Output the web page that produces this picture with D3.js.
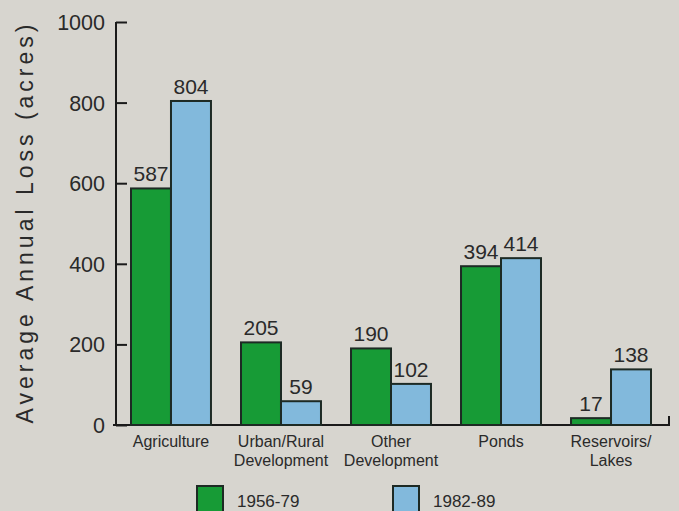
<!DOCTYPE html>
<html>
<head>
<meta charset="utf-8">
<script src="https://cdn.jsdelivr.net/npm/d3@7"></script>
<style>
html,body{margin:0;padding:0;background:#d7d5cf;}
svg{display:block;}
text{font-family:"Liberation Sans",Arial,Helvetica,sans-serif;fill:#2a2a2a;}
</style>
</head>
<body>
<svg id="chart" width="679" height="511"></svg>
<script>
const categories = [["Agriculture"], ["Urban/Rural", "Development"], ["Other", "Development"], ["Ponds"], ["Reservoirs/", "Lakes"]];
const seriesNames = ["1956-79", "1982-89"];
const values1956 = [587, 205, 190, 394, 17];
const values1982 = [804, 59, 102, 414, 138];
const yTicks = [0, 200, 400, 600, 800, 1000];
const colors = ["#179b36", "#82b9dc"];

const svg = d3.select("#chart");
const keys = categories.map((c, i) => "c" + i);

const x = d3.scaleBand().domain(keys).range([131, 651]).paddingInner(0.273).paddingOuter(0);
const xs = d3.scaleBand().domain(seriesNames).range([0, x.bandwidth()]).padding(0);
const y = d3.scaleLinear().domain([0, 1000]).range([425, 22]);

svg.append("rect").attr("width", 679).attr("height", 511).attr("fill", "#d7d5cf");

// y axis
const yAxis = d3.axisRight(y).tickValues(yTicks).tickSize(11).tickFormat("");
const ga = svg.append("g").attr("transform", "translate(116,0)").call(yAxis);
ga.select(".domain").remove();
ga.selectAll(".tick line").attr("stroke", "#1a1a1a").attr("stroke-width", 2);
svg.append("line").attr("x1", 116).attr("x2", 116).attr("y1", y(1000)).attr("y2", y(0) + 1)
  .attr("stroke", "#1a1a1a").attr("stroke-width", 2);
svg.selectAll(".ylab").data(yTicks).enter().append("text")
  .attr("x", 105).attr("y", d => y(d) + 8).attr("text-anchor", "end")
  .attr("font-size", 21.5).text(d => d);

// baseline
svg.append("path")
  .attr("d", `M113,${y(0)} L669,${y(0)} L669,${y(0) - 9}`)
  .attr("fill", "none").attr("stroke", "#1a1a1a").attr("stroke-width", 2);

// bars
const data = keys.map((k, i) => ({k, vals: [values1956[i], values1982[i]]}));
const groups = svg.selectAll(".grp").data(data).enter().append("g")
  .attr("transform", d => `translate(${x(d.k)},0)`);
groups.selectAll("rect").data(d => d.vals.map((v, j) => ({v, s: seriesNames[j], j}))).enter().append("rect")
  .attr("x", d => xs(d.s)).attr("width", xs.bandwidth())
  .attr("y", d => y(d.v)).attr("height", d => y(0) - y(d.v))
  .attr("fill", d => colors[d.j]).attr("stroke", "#1d2a24").attr("stroke-width", 2);
groups.selectAll(".vl").data(d => d.vals.map((v, j) => ({v, s: seriesNames[j], j}))).enter().append("text")
  .attr("x", d => xs(d.s) + xs.bandwidth() / 2).attr("y", d => y(d.v) - 7)
  .attr("text-anchor", "middle").attr("font-size", 21).text(d => d.v);

// category labels
categories.forEach((lines, i) => {
  const cx = x(keys[i]) + x.bandwidth() / 2;
  const t = svg.append("text").attr("text-anchor", "middle").attr("font-size", 16)
    .attr("x", cx).attr("y", 447);
  lines.forEach((l, j) => t.append("tspan").attr("x", cx).attr("dy", j ? 19 : 0).text(l));
});

// y title
svg.append("text").attr("transform", "translate(33,222) rotate(-90)")
  .attr("text-anchor", "middle").attr("font-size", 23).attr("letter-spacing", 4)
  .text("Average Annual Loss (acres)");

// legend
const legX = [197, 393];
seriesNames.forEach((s, i) => {
  svg.append("rect").attr("x", legX[i]).attr("y", 486).attr("width", 26).attr("height", 30)
    .attr("fill", colors[i]).attr("stroke", "#1d2a24").attr("stroke-width", 2);
  svg.append("text").attr("x", legX[i] + 40).attr("y", 507).attr("font-size", 17).text(s);
});
</script>
</body>
</html>
